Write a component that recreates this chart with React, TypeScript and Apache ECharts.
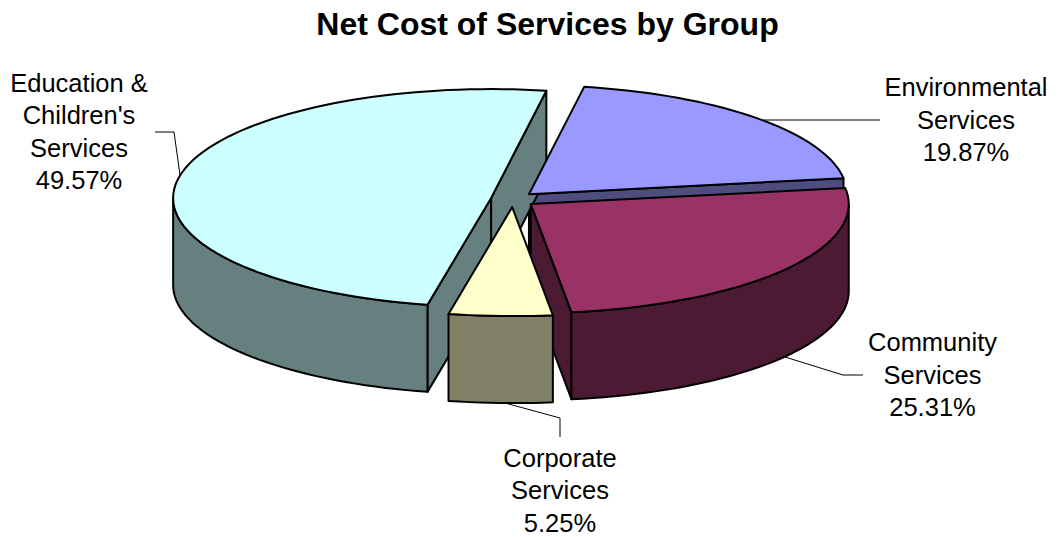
import React, { useEffect, useRef } from "react";
import * as echarts from "echarts";

// ---- data ----
const categories = [
  "Environmental\nServices",
  "Community\nServices",
  "Corporate\nServices",
  "Education &\nChildren's\nServices",
];
const shares = [19.87, 25.31, 5.25, 49.57];
const topColors = ["#9999FF", "#993366", "#FFFFCC", "#CCFFFF"];
const sideColors = ["#4D4D80", "#4D1A33", "#808066", "#668080"];
const titleText = "Net Cost of Services by Group";

// ---- layout (pixels) ----
const CX = 513;
const CY = 199.5;
const RX = 318;
const RY = 109;
const DEPTH = 87;
const EXPLODE = 0.07;
const START_DEG = 10;
const labelPos: number[][] = [
  [966, 119.5],
  [932.5, 374.6],
  [560, 490],
  [79, 131.6],
];
const leaderLines: number[][][] = [
  [[763, 120], [880, 120]],
  [[785, 357], [843, 375], [863, 375]],
  [[505, 403], [560, 418], [560, 437]],
  [[180, 175], [174, 132], [155, 132]],
];
const FONT = "'Liberation Sans', Arial, Helvetica, sans-serif";

function sliceAngles(values: number[]) {
  const total = values.reduce((a, b) => a + b, 0);
  let acc = (START_DEG * Math.PI) / 180;
  return values.map((v) => {
    const a = acc;
    const b = acc + (v / total) * Math.PI * 2;
    acc = b;
    return [a, b];
  });
}

export default function App() {
  const ref = useRef<HTMLDivElement>(null);

  useEffect(() => {
    document.body.style.margin = "0";
    if (!ref.current) return;
    const chart = echarts.init(ref.current, undefined, { renderer: "svg" });

    const angles = sliceAngles(shares);
    const mids = angles.map(([a, b]) => (a + b) / 2);
    // back-to-front rank for side faces
    const order = mids
      .map((m, i) => ({ i, k: -Math.cos(m) }))
      .sort((p, q) => p.k - q.k)
      .map((p) => p.i);
    const rank: number[] = [];
    order.forEach((idx, r) => (rank[idx] = r));

    const pt = (ax: number, ay: number, th: number, z: number) => [
      ax + RX * Math.sin(th),
      ay - RY * Math.cos(th) + z,
    ];
    const arc = (ax: number, ay: number, a: number, b: number, z: number) => {
      const n = Math.max(2, Math.ceil((Math.abs(b - a) * 180) / Math.PI / 2));
      const pts: number[][] = [];
      for (let k = 0; k <= n; k++) pts.push(pt(ax, ay, a + ((b - a) * k) / n, z));
      return pts;
    };

    const renderItem = (params: any, api: any) => {
      const i = params.dataIndex;
      api.value(0);
      const [a, b] = angles[i];
      const m = mids[i];
      const ax = CX + EXPLODE * RX * Math.sin(m);
      const ay = CY - EXPLODE * RY * Math.cos(m);
      const base = 10 + rank[i] * 3;
      const common = { stroke: "#000", lineWidth: 2, lineJoin: "round" };
      const children: any[] = [];

      // radial cut faces
      const faces: number[] = [];
      if (Math.sin(a) < 0) faces.push(a);
      if (Math.sin(b) > 0) faces.push(b);
      faces.forEach((th) => {
        const r0 = pt(ax, ay, th, 0);
        const r1 = pt(ax, ay, th, DEPTH);
        children.push({
          type: "polygon",
          z2: base + 1,
          shape: { points: [[ax, ay], r0, r1, [ax, ay + DEPTH]] },
          style: { fill: sideColors[i], ...common },
        });
      });

      // outer wall (front-facing part)
      for (let k = 0; k < 2; k++) {
        const lo = Math.PI / 2 + k * Math.PI * 2;
        const hi = (3 * Math.PI) / 2 + k * Math.PI * 2;
        const s = Math.max(a, lo);
        const e = Math.min(b, hi);
        if (e > s) {
          const pts = [...arc(ax, ay, s, e, 0), ...arc(ax, ay, e, s, DEPTH)];
          children.push({
            type: "polygon",
            z2: base + 2,
            shape: { points: pts },
            style: { fill: sideColors[i], ...common },
          });
        }
      }

      // top face
      children.push({
        type: "polygon",
        z2: 100,
        shape: { points: [[ax, ay], ...arc(ax, ay, a, b, 0)] },
        style: { fill: topColors[i], ...common },
      });

      return { type: "group", children };
    };

    const graphics: any[] = [
      {
        type: "text",
        x: 547.5,
        y: 24,
        silent: true,
        style: {
          text: titleText,
          fill: "#000",
          fontSize: 32,
          fontWeight: "bold",
          fontFamily: FONT,
          align: "center",
          verticalAlign: "middle",
        },
      },
    ];
    categories.forEach((name, i) => {
      graphics.push({
        type: "polyline",
        silent: true,
        shape: { points: leaderLines[i] },
        style: { stroke: "#000", lineWidth: 1, fill: "none" },
      });
      graphics.push({
        type: "text",
        x: labelPos[i][0],
        y: labelPos[i][1],
        silent: true,
        style: {
          text: name + "\n" + shares[i].toFixed(2) + "%",
          fill: "#000",
          fontSize: 25.5,
          fontFamily: FONT,
          lineHeight: 32.5,
          align: "center",
          verticalAlign: "middle",
        },
      });
    });

    chart.setOption({
      animation: false,
      backgroundColor: "#ffffff",
      series: [
        {
          type: "custom",
          coordinateSystem: "none",
          silent: true,
          renderItem,
          data: shares.map((v, i) => ({ name: categories[i], value: [v] })),
        },
      ],
      graphic: graphics,
    });

    return () => chart.dispose();
  }, []);

  return <div ref={ref} style={{ width: 1062, height: 537 }} />;
}
